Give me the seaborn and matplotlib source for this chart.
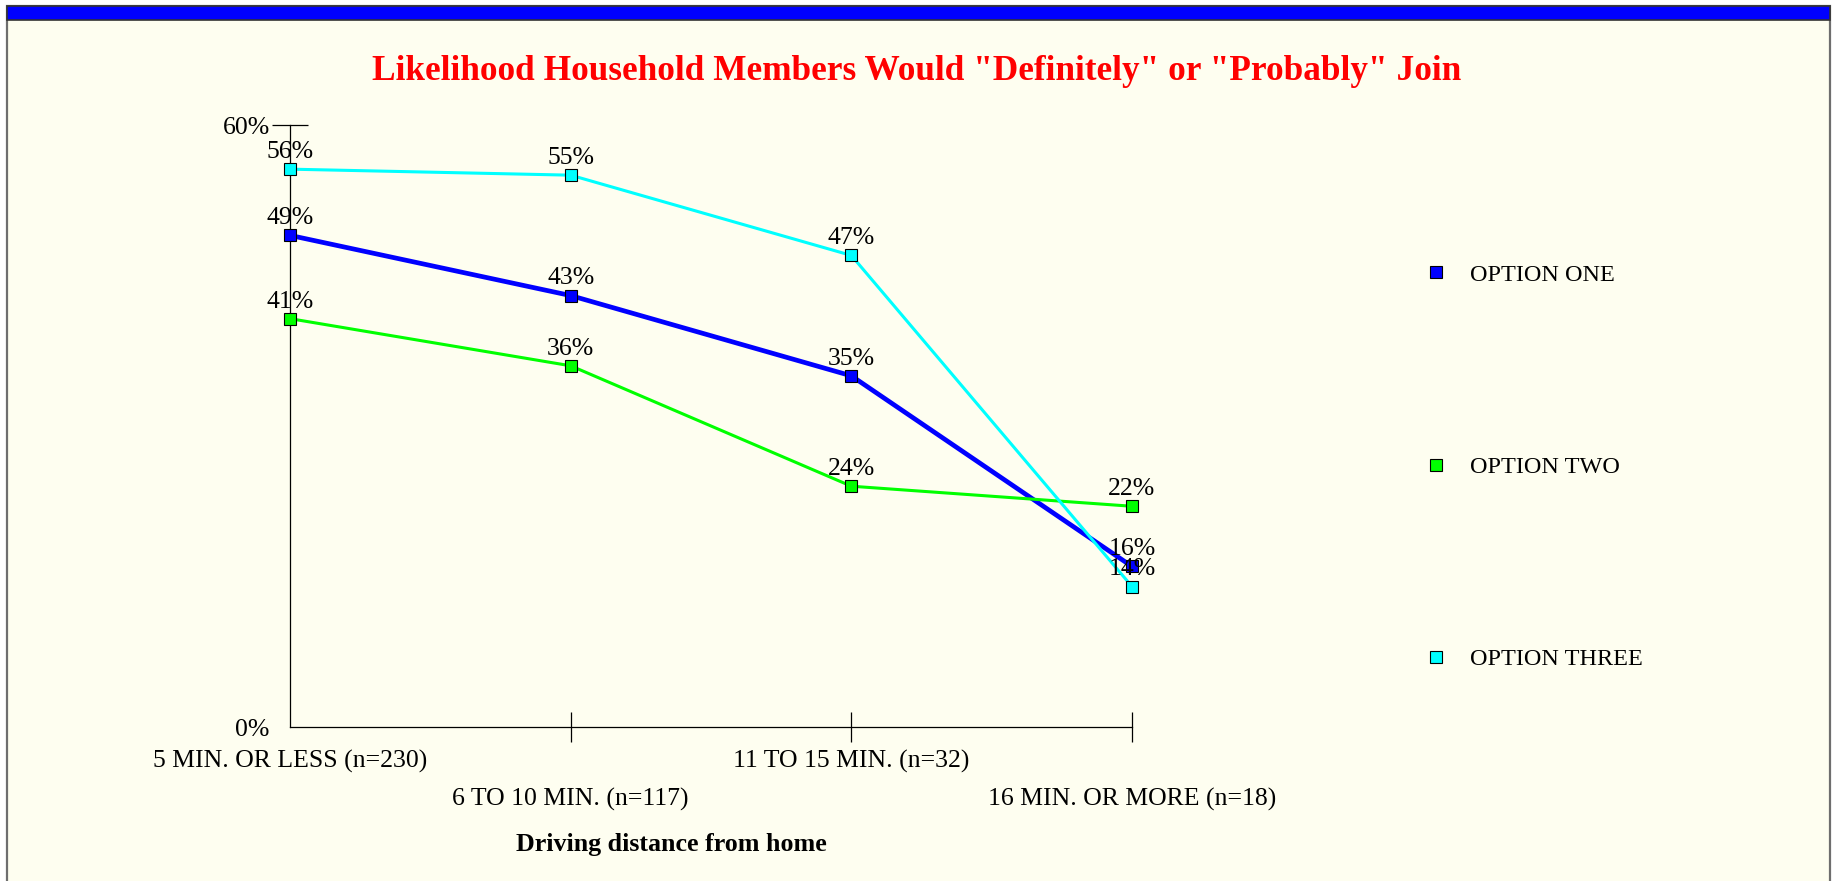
import numpy as np
import pandas as pd
import matplotlib
matplotlib.use("Agg")
import matplotlib.pyplot as plt
from matplotlib.patches import Rectangle
from matplotlib.lines import Line2D
import seaborn as sns

# chart data
categories = ["5 MIN. OR LESS (n=230)", "6 TO 10 MIN. (n=117)",
              "11 TO 15 MIN. (n=32)", "16 MIN. OR MORE (n=18)"]
series_names = ["OPTION ONE", "OPTION TWO", "OPTION THREE"]
option_one = [49, 43, 35, 16]
option_two = [40.7, 36, 24, 22]
option_three = [55.6, 55, 47, 14]
y_ticks = [0, 60]
y_tick_labels = ["0%", "60%"]

title = 'Likelihood Household Members Would "Definitely" or "Probably" Join'
x_label = "Driving distance from home"

colors = {"OPTION ONE": "#0000FF", "OPTION TWO": "#00FF00", "OPTION THREE": "#00FFFF"}
widths = {"OPTION ONE": 3.4, "OPTION TWO": 2.2, "OPTION THREE": 2.2}

# long-form table for seaborn
values = [option_one, option_two, option_three]
df = pd.DataFrame({
    "pos": np.tile(np.arange(len(categories)), len(series_names)),
    "pct": np.concatenate(values),
    "option": np.repeat(series_names, len(categories)),
})

sns.set_style("white")
plt.rcParams["font.family"] = ["Liberation Serif", "DejaVu Serif"]
plt.rcParams["text.color"] = "black"
plt.rcParams["axes.labelcolor"] = "black"

fig = plt.figure(figsize=(18.33, 8.81), dpi=100, facecolor="white")
W, H = 1833, 881

# page frame: ivory panel with a blue header strip
fig.patches.append(Rectangle((7 / W, -0.05), 1823 / W, 1.05 - 6 / H,
                             transform=fig.transFigure, facecolor="#FEFEF0",
                             edgecolor="#6e6e6e", linewidth=1.6, zorder=-10))
fig.patches.append(Rectangle((7 / W, 1 - 20 / H), 1823 / W, 14 / H,
                             transform=fig.transFigure, facecolor="#0000FF",
                             edgecolor="#333333", linewidth=1.2, zorder=-9))

ax = fig.add_axes([290 / W, 1 - 727 / H, (1132 - 290) / W, (727 - 125) / H])
ax.set_facecolor("none")
ax.set_zorder(5)

sns.lineplot(data=df, x="pos", y="pct", hue="option", palette=colors,
             size="option", sizes=widths, style="option",
             markers={n: "s" for n in series_names}, dashes=False,
             markersize=8, markeredgecolor="black", markeredgewidth=0.8,
             legend=False, ax=ax, zorder=3, clip_on=False)

# value labels above each marker
for name, vals in zip(series_names, values):
    for i, v in enumerate(vals):
        ax.annotate(f"{v:.0f}%", (i, v), xytext=(0, 8), textcoords="offset points",
                    ha="center", va="baseline", fontsize=18.5, color="black",
                    zorder=4, annotation_clip=False)

ax.set_xlim(0, len(categories) - 1)
ax.set_ylim(0, 60)
for s in ["top", "right"]:
    ax.spines[s].set_visible(False)
for s in ["left", "bottom"]:
    ax.spines[s].set_color("black")
    ax.spines[s].set_linewidth(0.9)

ax.set_yticks(y_ticks)
ax.set_yticklabels(y_tick_labels)
ax.tick_params(axis="y", left=True, direction="inout", length=26, width=0.9,
               pad=1.5, labelsize=18.5, colors="black")
ax.yaxis.get_major_ticks()[0].tick1line.set_visible(False)

ax.set_xticks(range(len(categories)))
ax.set_xticklabels(categories)
ax.tick_params(axis="x", bottom=True, direction="inout", length=21, width=0.9,
               labelsize=18.5, colors="black")
for i, t in enumerate(ax.xaxis.get_major_ticks()):
    t.set_pad(6.0 if i % 2 == 0 else 33.3)
ax.xaxis.get_major_ticks()[0].tick1line.set_visible(False)

ax.set_xlabel(x_label, fontsize=18.7, fontweight="bold", color="black")
ax.xaxis.set_label_coords((671 - 290) / (1132 - 290), -(833 - 727) / (727 - 125))
ax.xaxis.label.set_va("top")
ax.set_ylabel("")

fig.text(0.5, 1 - 80 / H, title, ha="center", va="baseline",
         fontsize=25.4, fontweight="bold", color="#FF0000")

handles = [Line2D([], [], linestyle="none", marker="s", markersize=8,
                  markerfacecolor=colors[n], markeredgecolor="black",
                  markeredgewidth=0.8) for n in series_names]
fig.legend(handles, series_names, loc="center left",
           bbox_to_anchor=((1436 - 9.7) / W, 1 - 467 / H),
           frameon=False, fontsize=17.5, labelspacing=7.0,
           handlelength=0.8, handletextpad=1.0, borderpad=0, borderaxespad=0,
           labelcolor="black")

fig.savefig("out.png", dpi=100, facecolor="white")
